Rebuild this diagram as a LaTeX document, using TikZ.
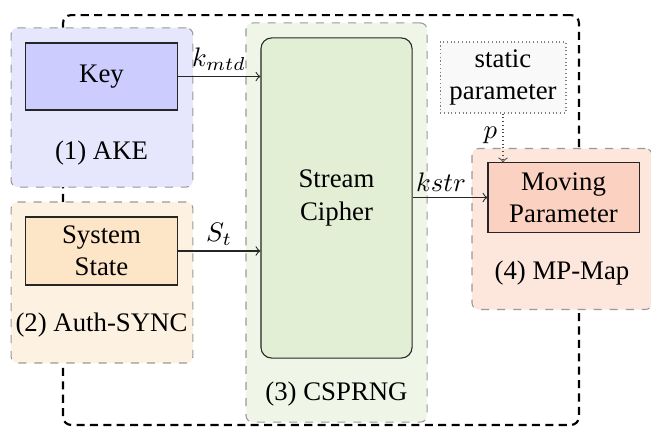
\documentclass[tikz,border=0pt]{standalone}
\usepackage{fontspec}
\newfontfamily\timesfont{Liberation Serif}
\usetikzlibrary{positioning,calc}
\definecolor{akebg}{HTML}{E6E6FC}
\definecolor{keyfill}{HTML}{CCCCFF}
\definecolor{syncbg}{HTML}{FDF2E2}
\definecolor{ssfill}{HTML}{FDE6C8}
\definecolor{csbg}{HTML}{EFF5E7}
\definecolor{scfill}{HTML}{E2EFD5}
\definecolor{mpbg}{HTML}{FDE6DC}
\definecolor{mpfill}{HTML}{FBD2C2}
\definecolor{stfill}{HTML}{F9F9F9}
\tikzset{
  x=0.3733pt, y=-0.3733pt,
  group/.style={draw=gray!80, dashed, rounded corners=2.5pt, line width=0.4pt, inner sep=0pt},
  block/.style={draw=black!85, line width=0.4pt, minimum width=56.4pt, align=center, inner sep=0pt},
  outerbox/.style={draw=black, line width=0.8pt, dash pattern=on 3pt off 2pt, rounded corners=3pt, minimum width=192.6pt, minimum height=153pt, inner sep=0pt},
  conn/.style={->, line width=0.4pt, draw=black!85},
  lbl/.style={inner sep=2pt}
}
\begin{document}
\begin{tikzpicture}[font=\timesfont]
\useasboundingbox (0,0) rectangle (651,428);
% outer dashed frame
\node[outerbox] (outer) at (321,220) {};
% groups
\node[group, fill=akebg, minimum width=67.9pt, minimum height=59.4pt] (ake) at (102,107.5) {};
\node[group, fill=syncbg, minimum width=67.9pt, minimum height=60.1pt] (sync) at (102,282.5) {};
\node[group, fill=csbg, minimum width=67.6pt, minimum height=149pt] (cs) at (336.5,222.5) {};
\node[group, fill=mpbg, minimum width=67.2pt, minimum height=60.1pt] (mp) at (562,229) {};
% blocks
\node[block, fill=keyfill, minimum height=25pt] (key) at (101.5,76.5) {Key};
\node[block, fill=ssfill, minimum height=25.4pt] (ss) at (101.5,251) {System\\State};
\node[block, fill=scfill, minimum height=119.5pt, rounded corners=4pt] (sc) at (336.5,198) {Stream\\Cipher};
\node[block, fill=mpfill, minimum height=25.8pt] (mpar) at (563.5,197.5) {Moving\\Parameter};
\node[draw=gray, densely dotted, fill=stfill, line width=0.4pt, minimum width=47pt, minimum height=26.5pt, align=center, inner sep=0pt] (st) at (503,77.5) {static\\parameter};
% group labels
\node (l1) at (101.5,153) {(1)\ AKE};
\node (l2) at (101.5,325) {(2)\ Auth-SYNC};
\node (l3) at (336.5,394) {(3)\ CSPRNG};
\node (l4) at (562,273) {(4)\ MP-Map};
% connectors
\draw[conn] (key.east) -- node[lbl, above] {$k_{mtd}$} (key.east -| sc.west);
\draw[conn] (ss.east) -- node[lbl, above] {$S_t$} (ss.east -| sc.west);
\draw[conn] (sc.east |- mpar.west) -- node[lbl, above, pos=0.38] {$kstr$} (mpar.west);
\draw[conn, densely dotted, draw=black!70] (st.south) -- node[lbl, left, pos=0.45] {$p$} (st.south |- mpar.north);
\end{tikzpicture}
\end{document}
